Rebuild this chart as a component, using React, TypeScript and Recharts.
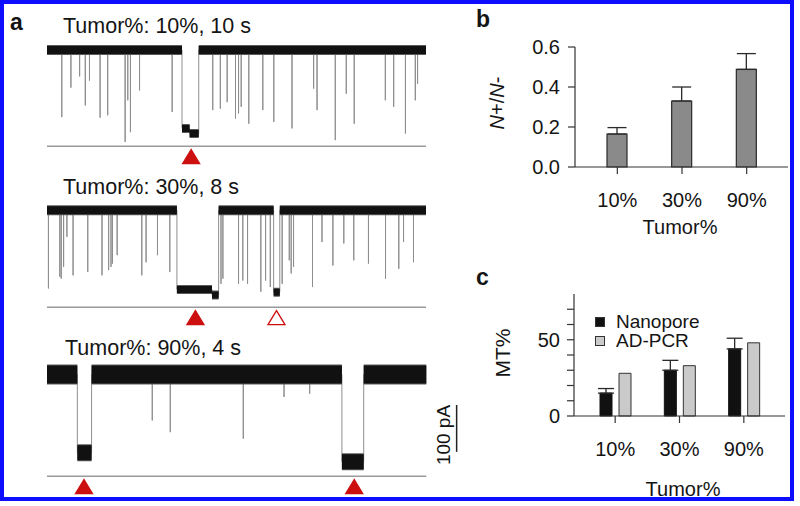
import React from 'react';
import {
  ComposedChart,
  Line,
  Scatter,
  XAxis,
  YAxis,
  ReferenceLine,
  BarChart,
  Bar,
  ErrorBar,
  Legend,
} from 'recharts';

const FONT = '"Liberation Sans", Arial, Helvetica, sans-serif';
const INK = '#141414';

// ---- panel a: current traces (time in s, current in pA) ----
const trace1Base = 205;
const trace1SpikeT = [0.39, 0.63, 0.86, 1.01, 1.12, 1.4, 1.6, 2.06, 2.13, 2.2, 2.44, 3.3, 4.37, 4.57, 4.75, 4.97, 5.05, 5.12, 5.32, 5.69, 5.98, 6.46, 7.03, 7.12, 7.6, 7.89, 8.1, 8.92, 9.14, 9.45, 9.71, 9.77];
const trace1SpikeI = [62, 125, 149, 87, 140, 61, 66, 9, 98, 30, 119, 73, 77, 80, 94, 59, 70, 84, 48, 77, 52, 38, 123, 77, 13, 112, 48, 98, 84, 27, 98, 133];
const trace1BlockFrom = [3.56, 3.76];
const trace1BlockTo = [3.76, 4.0];
const trace1BlockI = [38, 27];
const trace1Marks = [3.8];

const trace2Base = 207;
const trace2SpikeT = [0.03, 0.27, 0.3, 0.35, 0.42, 0.55, 0.86, 1.16, 1.3, 1.35, 1.38, 1.48, 2.0, 2.09, 2.33, 2.59, 3.67, 3.71, 4.04, 4.13, 4.23, 4.51, 4.61, 4.71, 4.96, 5.11, 5.15, 5.2, 5.6, 5.8, 6.03, 6.26, 6.47, 6.78, 7.14, 7.42, 7.52, 7.73];
const trace2SpikeI = [40, 65, 61, 86, 150, 68, 75, 68, 79, 86, 93, 111, 68, 96, 111, 75, 50, 61, 50, 57, 50, 33, 57, 43, 50, 100, 72, 86, 43, 139, 89, 136, 100, 93, 61, 82, 139, 96];
const trace2BlockFrom = [2.74, 3.48, 4.78];
const trace2BlockTo = [3.48, 3.62, 4.91];
const trace2BlockI = [38, 26, 32];
const trace2Marks = [3.13];
const trace2OpenMarks = [4.84];

const trace3Base = 217;
const trace3SpikeT = [1.11, 1.3, 2.07, 2.5, 2.77];
const trace3SpikeI = [119, 94, 80, 169, 176];
const trace3BlockFrom = [0.32, 3.11];
const trace3BlockTo = [0.47, 3.34];
const trace3BlockI = [50, 31];
const trace3Marks = [0.39, 3.24];

const markLevel = -22;
const scaleBarT = 4.32;
const scaleBarFrom = 52;
const scaleBarPA = 100;

// ---- panel b ----
const tumorCats = ['10%', '30%', '90%'];
const ratioMean = [0.165, 0.33, 0.488];
const ratioErr = [0.032, 0.07, 0.079];
const ratioTicks = [0, 0.2, 0.4, 0.6];

// ---- panel c ----
const seriesNames = ['Nanopore', 'AD-PCR'];
const nanoMean = [15, 30, 44];
const nanoErr = [3, 6.5, 7];
const pcrMean = [28, 33, 48];
const mtTicks = [0, 10, 20, 30, 40, 50, 60, 70];
const mtLabelled = [0, 50];

type Pt = { t: number; v: number | null };

function buildTrace(
  dur: number,
  base: number,
  spikeT: number[],
  spikeI: number[],
  from: number[],
  to: number[],
  lvl: number[]
) {
  const evs = [
    ...spikeT.map((t, j) => ({ t, k: 's', j })),
    ...from.map((t, j) => ({ t, k: 'b', j })),
  ].sort((a, b) => a.t - b.t);
  const thin: Pt[] = [{ t: 0, v: base }];
  for (const e of evs) {
    const j = e.j;
    if (e.k === 's') {
      thin.push({ t: e.t, v: base }, { t: e.t, v: spikeI[j] }, { t: e.t, v: base });
    } else {
      const joined = j > 0 && to[j - 1] === from[j];
      if (!joined) thin.push({ t: from[j], v: base });
      thin.push({ t: from[j], v: lvl[j] }, { t: to[j], v: lvl[j] });
      const next = j + 1 < from.length && from[j + 1] === to[j];
      if (!next) thin.push({ t: to[j], v: base });
    }
  }
  thin.push({ t: dur, v: base });

  const band: Pt[] = [{ t: 0, v: base }];
  from.forEach((f, j) => {
    const joined = j > 0 && to[j - 1] === f;
    if (!joined) band.push({ t: f, v: base }, { t: f, v: null });
    const next = j + 1 < from.length && from[j + 1] === to[j];
    if (!next) band.push({ t: to[j], v: base });
  });
  band.push({ t: dur, v: base });

  const blocks: Pt[] = [];
  from.forEach((f, j) => {
    blocks.push({ t: f, v: lvl[j] }, { t: to[j], v: lvl[j] }, { t: to[j], v: null });
  });
  return { thin, band, blocks };
}

const triangle = (fill: string) => (props: any) => {
  const { cx, cy } = props;
  return (
    <polygon
      points={`${cx},${cy - 7} ${cx - 8.5},${cy + 7} ${cx + 8.5},${cy + 7}`}
      fill={fill}
      stroke="#cc1010"
      strokeWidth={1.3}
    />
  );
};

const PX_PER_S = 379.3;

function Trace(props: {
  top: number;
  dur: number;
  xMax: number;
  base: number;
  spikeT: number[];
  spikeI: number[];
  from: number[];
  to: number[];
  lvl: number[];
  marks: number[];
  openMarks?: number[];
  bandW: number;
  blockW: number;
  scaleBar?: boolean;
}) {
  const { thin, band, blocks } = buildTrace(
    props.dur, props.base, props.spikeT, props.spikeI, props.from, props.to, props.lvl
  );
  const width = (PX_PER_S / props.dur) * props.xMax;
  const marks = props.marks.map((t) => ({ t, v: markLevel }));
  const open = (props.openMarks || []).map((t) => ({ t, v: markLevel }));
  return (
    <div style={{ position: 'absolute', left: 46.7, top: props.top }}>
      <ComposedChart width={width} height={136} margin={{ top: 0, right: 0, bottom: 0, left: 0 }}>
        <XAxis dataKey="t" type="number" domain={[0, props.xMax]} hide allowDataOverflow />
        <YAxis dataKey="v" type="number" domain={[-40, 250]} hide allowDataOverflow />
        <ReferenceLine
          segment={[{ x: 0, y: 0 }, { x: props.dur, y: 0 }]}
          stroke="#9a9a9a"
          strokeWidth={1.5}
        />
        <Line data={thin} dataKey="v" stroke="#8e8e8e" strokeWidth={1} dot={false} isAnimationActive={false} />
        <Line data={band} dataKey="v" stroke="#5a5a5a" strokeWidth={props.bandW + 2} dot={false} isAnimationActive={false} />
        <Line data={band} dataKey="v" stroke="#111" strokeWidth={props.bandW} dot={false} isAnimationActive={false} />
        <Line data={blocks} dataKey="v" stroke="#5a5a5a" strokeWidth={props.blockW + 2} dot={false} isAnimationActive={false} />
        <Line data={blocks} dataKey="v" stroke="#111" strokeWidth={props.blockW} dot={false} isAnimationActive={false} />
        <Scatter data={marks} shape={triangle('#cc1010')} isAnimationActive={false} />
        {open.length > 0 && <Scatter data={open} shape={triangle('#ffffff')} isAnimationActive={false} />}
        {props.scaleBar && (
          <ReferenceLine
            segment={[{ x: scaleBarT, y: scaleBarFrom }, { x: scaleBarT, y: scaleBarFrom + scaleBarPA }]}
            stroke="#222"
            strokeWidth={1.5}
          />
        )}
      </ComposedChart>
    </div>
  );
}

function Txt(props: {
  x: number;
  y: number;
  size: number;
  children: React.ReactNode;
  bold?: boolean;
  center?: boolean;
  rotate?: boolean;
}) {
  const tf = props.rotate
    ? 'translate(-50%, -50%) rotate(-90deg)'
    : props.center
    ? 'translate(-50%, -50%)'
    : 'translate(0, -50%)';
  return (
    <div
      style={{
        position: 'absolute',
        left: props.x,
        top: props.y,
        transform: tf,
        fontSize: props.size,
        lineHeight: 1,
        fontWeight: props.bold ? 700 : 400,
        whiteSpace: 'nowrap',
        color: INK,
      }}
    >
      {props.children}
    </div>
  );
}

const tickStyle = { fill: INK, fontSize: 20, fontFamily: FONT };
const axisStroke = { stroke: '#333', strokeWidth: 1.2 };

const renderLegend = (p: any) => {
  const items = [...(p.payload || [])].sort(
    (a: any, b: any) => seriesNames.indexOf(a.value) - seriesNames.indexOf(b.value)
  );
  return (
    <div style={{ fontFamily: FONT, fontSize: 19, lineHeight: '18px', color: INK }}>
      {items.map((e: any) => (
        <div key={e.value} style={{ display: 'flex', alignItems: 'center', height: 19.4 }}>
          <span
            style={{
              display: 'inline-block',
              width: 8,
              height: 8,
              background: e.color,
              border: '1px solid #333',
              marginRight: 11,
            }}
          />
          <span style={{ lineHeight: '18px' }}>{e.value}</span>
        </div>
      ))}
    </div>
  );
};

export default function App() {
  const ratioRows = tumorCats.map((cat, i) => ({ cat, mean: ratioMean[i], err: [0, ratioErr[i]] }));
  const mtRows = tumorCats.map((cat, i) => ({
    cat,
    nano: nanoMean[i],
    nanoErr: [0, nanoErr[i]],
    pcr: pcrMean[i],
  }));

  return (
    <div
      style={{
        position: 'absolute',
        left: 0,
        top: 0,
        width: 800,
        height: 506,
        background: '#fff',
        overflow: 'hidden',
        fontFamily: FONT,
      }}
    >
      <Trace
        top={28.8}
        dur={10}
        xMax={10}
        base={trace1Base}
        spikeT={trace1SpikeT}
        spikeI={trace1SpikeI}
        from={trace1BlockFrom}
        to={trace1BlockTo}
        lvl={trace1BlockI}
        marks={trace1Marks}
        bandW={8}
        blockW={7}
      />
      <Trace
        top={189.8}
        dur={8}
        xMax={8}
        base={trace2Base}
        spikeT={trace2SpikeT}
        spikeI={trace2SpikeI}
        from={trace2BlockFrom}
        to={trace2BlockTo}
        lvl={trace2BlockI}
        marks={trace2Marks}
        openMarks={trace2OpenMarks}
        bandW={8}
        blockW={7}
      />
      <Trace
        top={358.8}
        dur={4}
        xMax={4.5}
        base={trace3Base}
        spikeT={trace3SpikeT}
        spikeI={trace3SpikeI}
        from={trace3BlockFrom}
        to={trace3BlockTo}
        lvl={trace3BlockI}
        marks={trace3Marks}
        bandW={18}
        blockW={15}
        scaleBar
      />

      <div style={{ position: 'absolute', left: 460, top: 0 }}>
        <BarChart width={340} height={260} data={ratioRows} margin={{ top: 47, right: 12, bottom: 53, left: 65 }}>
          <XAxis
            dataKey="cat"
            interval={0}
            height={40}
            tickSize={7}
            tickMargin={19}
            padding={{ left: 10, right: 9 }}
            tick={tickStyle}
            tickLine={axisStroke}
            axisLine={axisStroke}
          />
          <XAxis xAxisId="top" dataKey="cat" orientation="top" height={0} tick={false} tickLine={false} axisLine={axisStroke} />
          <YAxis
            type="number"
            domain={[0, 0.6]}
            ticks={ratioTicks}
            tickFormatter={(v: number) => v.toFixed(1)}
            width={50}
            tickSize={7}
            tickMargin={8}
            tick={tickStyle}
            tickLine={axisStroke}
            axisLine={axisStroke}
          />
          <YAxis yAxisId="right" orientation="right" type="number" domain={[0, 0.6]} width={0} tick={false} tickLine={false} axisLine={axisStroke} />
          <Bar dataKey="mean" fill="#8a8a8a" stroke="#2a2a2a" strokeWidth={1.2} barSize={20} isAnimationActive={false}>
            <ErrorBar dataKey="err" direction="y" width={9.5} stroke="#2a2a2a" strokeWidth={1.3} />
          </Bar>
        </BarChart>
      </div>

      <div style={{ position: 'absolute', left: 460, top: 260 }}>
        <BarChart
          width={340}
          height={246}
          data={mtRows}
          barGap={7}
          margin={{ top: 34, right: 15, bottom: 50, left: 64 }}
        >
          <XAxis
            dataKey="cat"
            interval={0}
            height={40}
            tickSize={7}
            tickMargin={19}
            padding={{ left: 9, right: 9 }}
            tick={tickStyle}
            tickLine={axisStroke}
            axisLine={axisStroke}
          />
          <XAxis xAxisId="top" dataKey="cat" orientation="top" height={0} tick={false} tickLine={false} axisLine={axisStroke} />
          <YAxis
            type="number"
            domain={[0, 80]}
            ticks={mtTicks}
            interval={0}
            tickFormatter={(v: number) => (mtLabelled.includes(v) ? String(v) : '')}
            width={50}
            tickSize={7}
            tickMargin={7}
            tick={tickStyle}
            tickLine={axisStroke}
            axisLine={axisStroke}
          />
          <YAxis yAxisId="right" orientation="right" type="number" domain={[0, 80]} width={0} tick={false} tickLine={false} axisLine={axisStroke} />
          <Legend
            layout="vertical"
            align="center"
            verticalAlign="middle"
            content={renderLegend}
            wrapperStyle={{ left: 135, top: 52, width: 'auto', height: 'auto' }}
          />
          <Bar dataKey="nano" name={seriesNames[0]} fill="#111" stroke="#111" barSize={12} isAnimationActive={false}>
            <ErrorBar dataKey="nanoErr" direction="y" width={8} stroke="#2a2a2a" strokeWidth={1.3} />
          </Bar>
          <Bar dataKey="pcr" name={seriesNames[1]} fill="#cacaca" stroke="#333" barSize={12} isAnimationActive={false} />
        </BarChart>
      </div>

      <Txt x={10} y={22} size={23} bold>a</Txt>
      <Txt x={476} y={19} size={23} bold>b</Txt>
      <Txt x={476} y={277} size={23} bold>c</Txt>

      <Txt x={63} y={26.5} size={21.5}>Tumor%: 10%, 10 s</Txt>
      <Txt x={63} y={187.5} size={21.5}>Tumor%: 30%, 8 s</Txt>
      <Txt x={65} y={349} size={21.5}>Tumor%: 90%, 4 s</Txt>
      <Txt x={443} y={435} size={19} rotate>100 pA</Txt>

      <Txt x={497} y={103} size={20} rotate>
        <i>N</i>+/<i>N</i>-
      </Txt>
      <Txt x={680} y={227} size={20} center>Tumor%</Txt>
      <Txt x={502} y={353} size={21} rotate>MT%</Txt>
      <Txt x={683} y={489} size={20} center>Tumor%</Txt>

      <div
        style={{
          position: 'absolute',
          left: 0,
          top: 0,
          width: 794,
          height: 501,
          border: '4px solid #0d0dff',
          boxSizing: 'border-box',
        }}
      />
    </div>
  );
}
